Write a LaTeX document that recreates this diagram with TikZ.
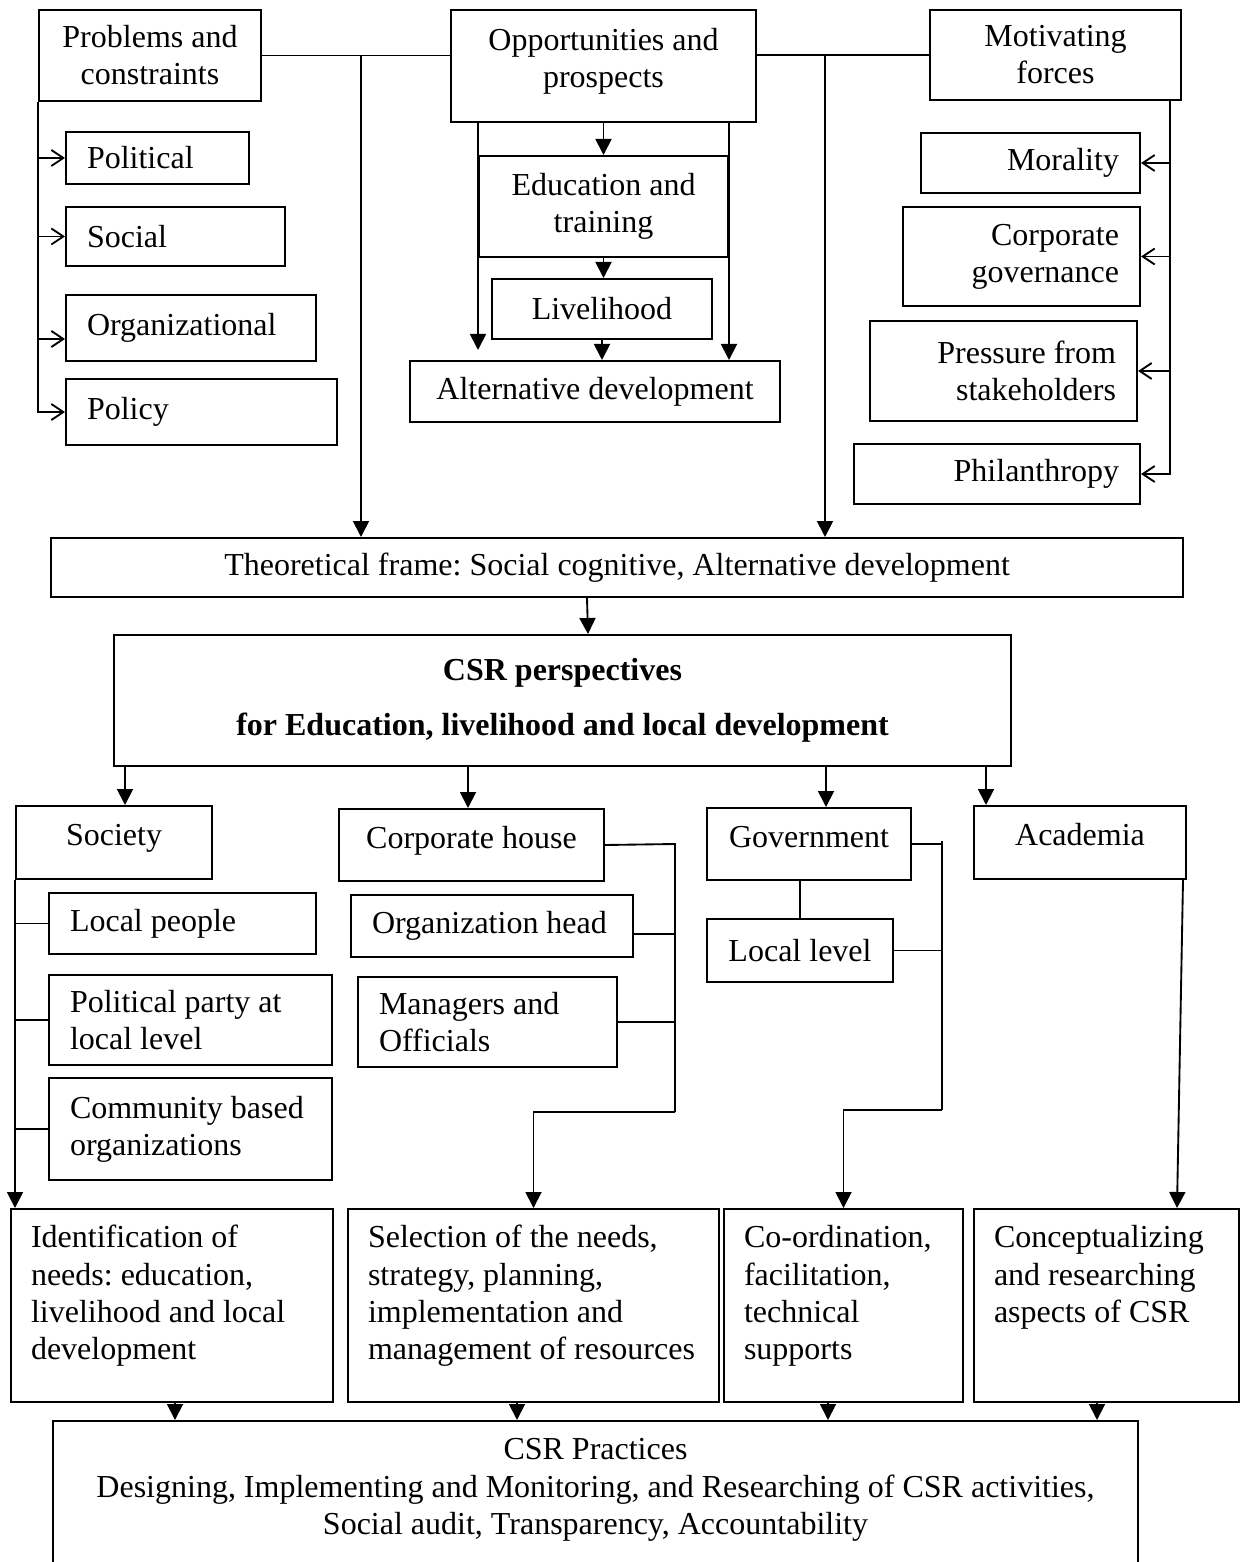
\documentclass[tikz,border=0pt]{standalone}
\usepackage{fontspec}
\setmainfont{Liberation Serif}
\usetikzlibrary{arrows.meta}
\frenchspacing

\begin{document}
\begin{tikzpicture}[
  x=0.375pt, y=-0.375pt,
  every node/.style={font=\fontsize{12}{13.9}\selectfont},
  box/.style={draw, line width=0.75pt, anchor=north west, inner sep=0pt, align=center},
  wh/.style 2 args={box, minimum width=#1*0.375pt, minimum height=#2*0.375pt},
  hbox/.style 2 args={wh={#1}{#2}, text height=8pt, text depth=5.5pt},
  lbox/.style 2 args={wh={#1}{#2}, align=flush left, inner xsep=7.875pt, text width=#1*0.375pt-15.75pt},
  rbox/.style 2 args={wh={#1}{#2}, align=flush right, inner xsep=7.875pt, text width=#1*0.375pt-15.75pt},
  tbox/.style={box, align=flush left, inner xsep=7.5pt, text width=#1*0.375pt-15pt, text height=14.6pt, text depth=57.75pt},
  line/.style={line width=0.7pt},
  arrow/.style={line, -{Triangle[length=6pt, width=6pt]}},
  barb/.style={line, -{Straight Barb[length=4.5pt, width=6pt]}}
]
\useasboundingbox (0,0) rectangle (1244,1562);
\clip (0,0) rectangle (1244,1562);

\node[wh={222}{91}] (prob) at (38,9) {Problems and\\constraints};
\node[wh={305}{112}, text depth=6.3pt] (opp) at (450,9) {Opportunities and\\prospects};
\node[wh={251}{90}] (mot) at (929,9) {Motivating\\forces};

\node[lbox={183}{52}] (polit) at (65,131) {Political};
\node[lbox={219}{59}] (socl) at (65,206) {Social};
\node[lbox={250}{66}] (orgn) at (65,294) {Organizational};
\node[lbox={271}{66}] (polcy) at (65,378) {Policy};

\node[wh={249}{101}] (edu) at (478,155) {Education and\\training};
\node[wh={220}{60}] (live) at (491,278) {Livelihood};
\node[wh={370}{61}] (alt) at (409,360) {Alternative development};

\node[rbox={219}{60}] (moral) at (920,132) {Morality};
\node[rbox={237}{99}] (cgov) at (902,206) {Corporate\\governance};
\node[rbox={267}{100}] (press) at (869,320) {Pressure from\\stakeholders};
\node[rbox={286}{60}] (phil) at (853,443) {Philanthropy};

\node[wh={1132}{59}] (theo) at (50,537) {Theoretical frame: Social cognitive, Alternative development};
\node[wh={897}{131}, font=\fontsize{12}{20.6}\selectfont\bfseries] (persp) at (113,634)
  {CSR perspectives\\for Education, livelihood and local development};

\node[hbox={196}{73}] (soc) at (15,805) {Society};
\node[hbox={265}{72}] (corp) at (338,808) {Corporate house};
\node[hbox={204}{72}] (govt) at (706,807) {Government};
\node[hbox={212}{73}] (acad) at (973,805) {Academia};

\node[lbox={267}{61}] (locp) at (48,892) {Local people};
\node[lbox={283}{90}] (polp) at (48,974) {Political party at\\local level};
\node[lbox={283}{102}] (cbo) at (48,1077) {Community based\\organizations};
\node[lbox={282}{62}] (orgh) at (350,894) {Organization head};
\node[lbox={259}{90}] (mgr) at (357,976) {Managers and\\Officials};
\node[wh={186}{63}] (locl) at (706,918) {Local level};

\node[tbox={322}] (ident) at (10,1208) {Identification of\\needs: education,\\livelihood and local\\development};
\node[tbox={371}] (sel) at (347,1208) {Selection of the needs,\\strategy, planning,\\implementation and\\management of resources};
\node[tbox={239}] (coord) at (723,1208) {Co-ordination,\\facilitation,\\technical\\supports};
\node[tbox={265}] (conc) at (973,1208) {Conceptualizing\\and researching\\aspects of CSR};

\node[box, align=flush center, text width=1085*0.375pt, text height=14.6pt, text depth=70pt] (pract) at (52,1420)
  {CSR Practices\\Designing, Implementing and Monitoring, and Researching of CSR activities,\\Social audit, Transparency, Accountability};

\coordinate (pj) at (361,55);
\coordinate (mj) at (825,54);
\draw[line] (prob.east) -- (prob.east -| opp.west);
\draw[line] (mot.west) -- (mot.west -| opp.east);
\draw[arrow] (pj) -- (pj |- theo.north);
\draw[arrow] (mj) -- (mj |- theo.north);

\draw[barb] (prob.south west) |- (polcy.west);
\foreach \n in {polit, socl} \draw[barb] (prob.south west |- \n.west) -- (\n.west);
\draw[barb] (prob.south west |- 0,339) -- (orgn.west |- 0,339);

\draw[arrow] (opp.south -| edu.north) -- (edu.north);
\draw[arrow] (edu.north west |- opp.south) -- ([yshift=3.75pt]edu.north west |- alt.north);
\draw[arrow] (edu.north east |- opp.south) -- (edu.north east |- alt.north);
\draw[arrow] (edu.south) -- (edu.south |- live.north);
\draw[arrow] (live.south) -- (live.south |- alt.north);

\coordinate (mr) at (1170,99);
\draw[barb] (mr) |- (phil.east);
\foreach \n in {moral, cgov, press} \draw[barb] (mr |- \n.east) -- (\n.east);

\draw[arrow] (theo.south -| 587,0) -- (persp.north -| 588,0);
\foreach \x/\n in {125/soc, 468/corp, 826/govt, 986/acad}
  \draw[arrow] (persp.south -| \x,0) -- (\n.north -| \x,0);

\draw[arrow] (soc.south west) -- (soc.south west |- ident.north);
\foreach \n in {locp, polp, cbo} \draw[line] (\n.west) -- (\n.west -| soc.west);

\coordinate (cj) at (675,844);
\coordinate (cb) at (675,1112);
\draw[line] (corp.east) -- (cj) -- (cb);
\draw[line] ([yshift=-3pt]orgh.east) -- ([yshift=-3pt]orgh.east -| cj);
\draw[line] (mgr.east) -- (mgr.east -| cj);
\draw[arrow] (cb) -| (sel.north);

\coordinate (gj) at (942,841);
\coordinate (gb) at (942,1110);
\draw[line] (locl.north) -- (locl.north |- govt.south);
\draw[line] (govt.east) -- (govt.east -| gj);
\draw[line] (gj) -- (gb);
\draw[line] (locl.east) -- (locl.east -| gj);
\draw[arrow] (gb) -| (coord.north);

\draw[arrow] ([xshift=-1.5pt]acad.south east) -- (conc.north -| 1177,0);

\foreach \x/\n in {175/ident, 517/sel, 828/coord, 1097/conc}
  \draw[arrow] (\n.south -| \x,0) -- (pract.north -| \x,0);
\end{tikzpicture}
\end{document}
